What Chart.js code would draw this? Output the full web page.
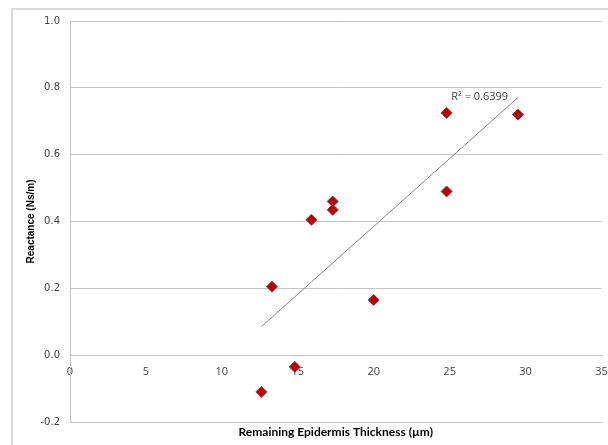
<!DOCTYPE html>
<html>
<head>
<meta charset="utf-8">
<script src="https://cdn.jsdelivr.net/npm/chart.js@4.4.0/dist/chart.umd.min.js"></script>
<style>
  html, body { margin: 0; padding: 0; background: #fff; }
  #wrap { width: 608px; height: 445px; }
</style>
</head>
<body>
<div id="wrap"><canvas id="chart" width="608" height="445"></canvas></div>
<script>
// data
const thickness = [12.6, 13.3, 14.8, 15.9, 17.3, 17.3, 20.0, 24.8, 24.8, 29.5];
const reactance = [-0.11, 0.205, -0.035, 0.405, 0.46, 0.435, 0.165, 0.725, 0.49, 0.72];
const trendX = [12.6, 29.5];
const trendY = [0.085, 0.771];
const xTicks = [0, 5, 10, 15, 20, 25, 30, 35];
const yTicks = [-0.2, 0.0, 0.2, 0.4, 0.6, 0.8, 1.0];
const xTitle = 'Remaining Epidermis Thickness (µm)';
const yTitle = 'Reactance (Ns/m)';
const rSquaredLabel = 'R² = 0.6399';
const rSquaredAt = { x: 25.1, y: 0.765 };

const gridColor = '#c4c4c4';

const extras = {
    id: 'extras',
    beforeDraw(chart) {
        const ctx = chart.ctx;
        ctx.save();
        // outer chart frame
        ctx.strokeStyle = '#d9d9d9';
        ctx.lineWidth = 2;
        ctx.strokeRect(12, 9, 620, 460);
        ctx.restore();
    },
    afterDraw(chart) {
        const ctx = chart.ctx;
        const area = chart.chartArea;
        const xs = chart.scales.x, ys = chart.scales.y;
        ctx.save();
        ctx.fillStyle = '#000';
        ctx.font = 'bold 12px Lato';
        ctx.textAlign = 'center';
        ctx.textBaseline = 'middle';
        ctx.fillText(xTitle, (area.left + area.right) / 2, 432);

        ctx.translate(31, (area.top + area.bottom) / 2);
        ctx.rotate(-Math.PI / 2);
        ctx.font = 'bold 10px "Liberation Sans"';
        ctx.fillText(yTitle, 0, 0);
        ctx.restore();

        ctx.save();
        ctx.fillStyle = '#404040';
        ctx.font = '11px "Open Sans"';
        ctx.textAlign = 'left';
        ctx.textBaseline = 'alphabetic';
        ctx.fillText(rSquaredLabel, xs.getPixelForValue(rSquaredAt.x), ys.getPixelForValue(rSquaredAt.y));
        ctx.restore();
    }
};

const ctx = document.getElementById('chart').getContext('2d');
const chart = new Chart(ctx, {
    type: 'scatter',
    data: {
        datasets: [{
            label: 'Reactance',
            data: thickness.map((x, i) => ({ x: x, y: reactance[i] })),
            pointStyle: 'rectRot',
            pointRadius: 5.5,
            pointHoverRadius: 5.5,
            backgroundColor: '#c00000',
            borderColor: '#8a3a5a',
            borderWidth: 1,
            order: 1
        }, {
            label: 'Trend',
            type: 'line',
            data: trendX.map((x, i) => ({ x: x, y: trendY[i] })),
            borderColor: '#868686',
            borderWidth: 1,
            pointRadius: 0,
            fill: false,
            order: 2
        }]
    },
    options: {
        responsive: false,
        animation: false,
        layout: { padding: { left: 0, right: 6, top: 21, bottom: 23 } },
        plugins: {
            legend: { display: false },
            tooltip: { enabled: false }
        },
        scales: {
            x: {
                type: 'linear',
                min: 0,
                max: 35,
                position: { y: 0 },
                afterBuildTicks: s => { s.ticks = xTicks.map(v => ({ value: v })); },
                afterFit: s => { s.height = 0; s.paddingLeft = 0; s.paddingRight = 0; },
                grid: { display: false, drawTicks: false },
                border: { display: true, color: gridColor, width: 1 },
                ticks: {
                    padding: 10,
                    color: '#404040',
                    font: { family: 'Open Sans', size: 11 },
                    maxRotation: 0,
                    callback: v => String(v)
                }
            },
            y: {
                type: 'linear',
                min: -0.2,
                max: 1.0,
                afterBuildTicks: s => { s.ticks = yTicks.map(v => ({ value: v })); },
                afterFit: s => { s.width = 70; },
                grid: { color: gridColor, lineWidth: 1, drawTicks: false },
                border: { display: true, color: gridColor, width: 1 },
                ticks: {
                    padding: 10,
                    color: '#404040',
                    font: { family: 'DejaVu Sans', size: 10 },
                    callback: v => (Math.abs(v) < 1e-9 ? 0 : v).toFixed(1)
                }
            }
        }
    },
    plugins: [extras]
});
</script>
</body>
</html>
